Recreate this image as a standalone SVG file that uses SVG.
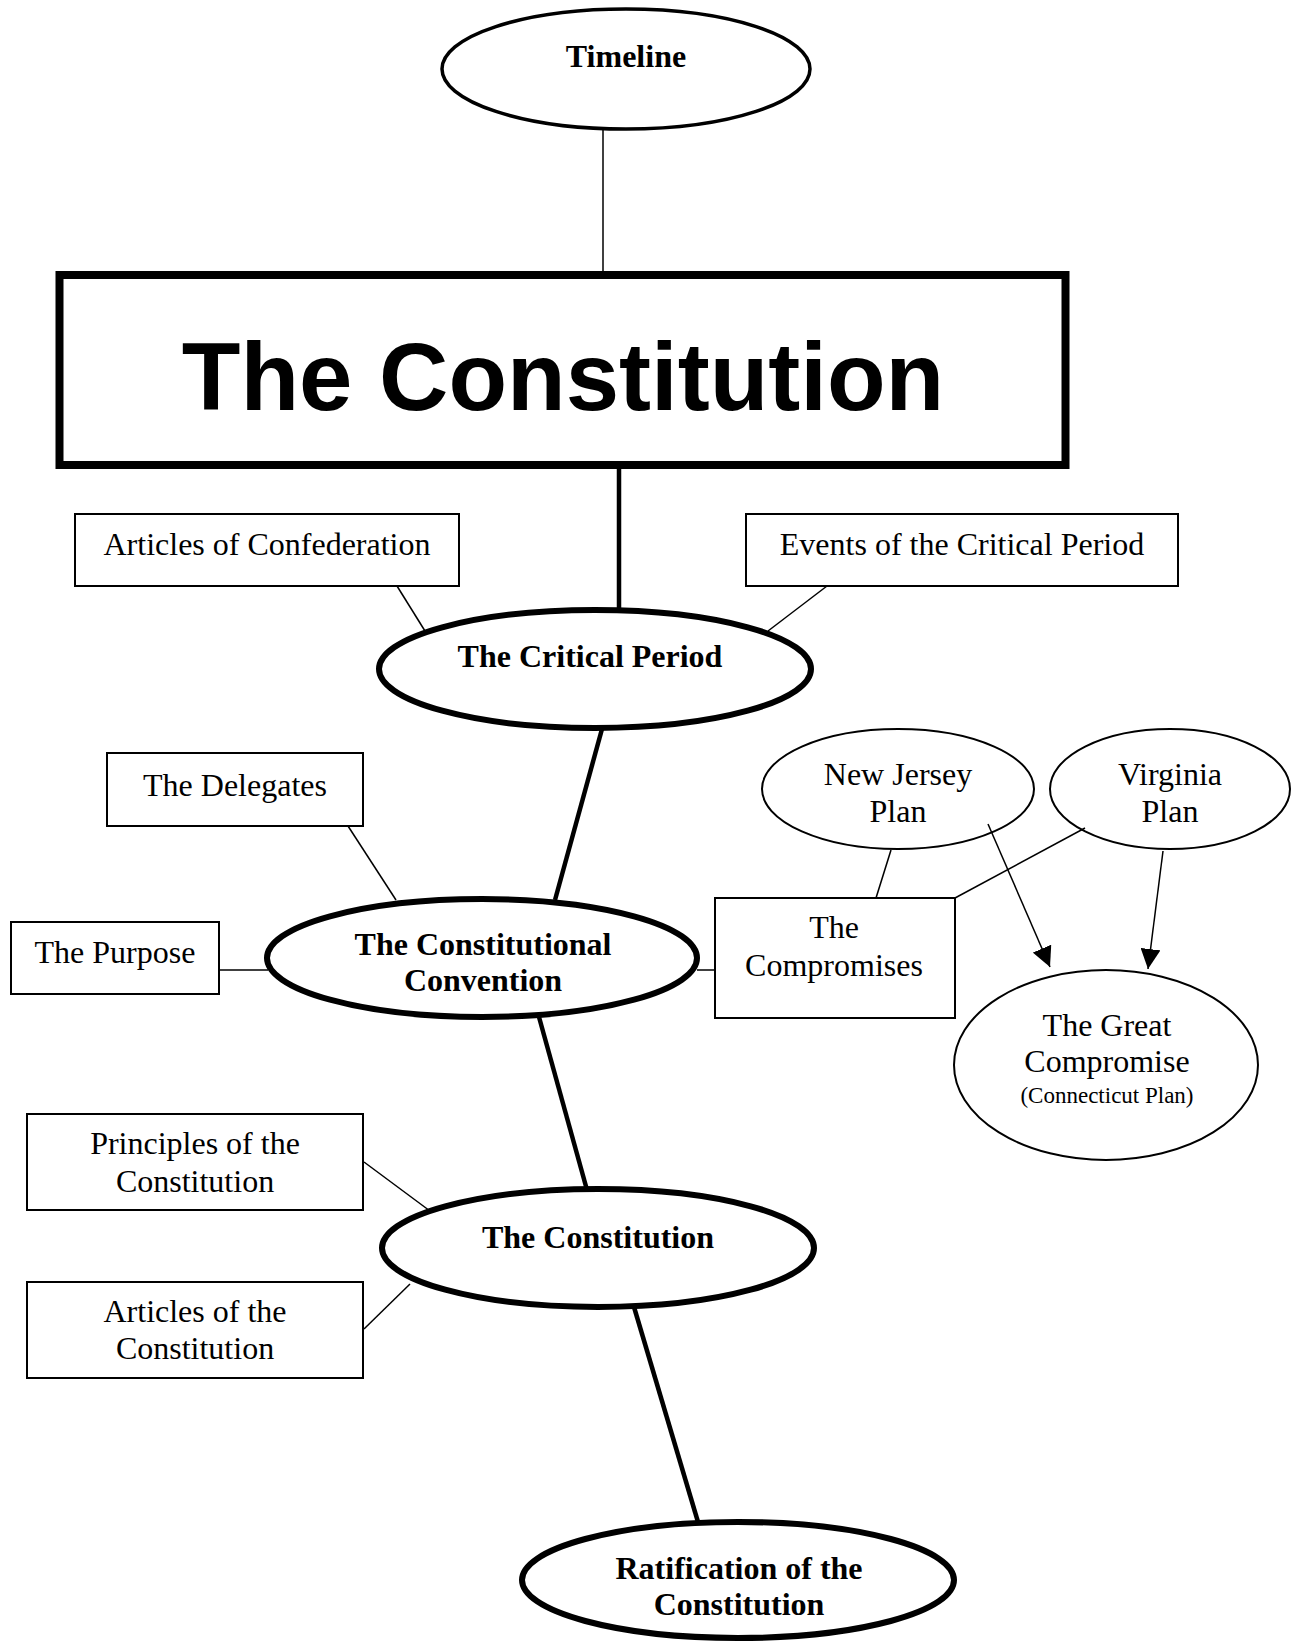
<svg xmlns="http://www.w3.org/2000/svg" width="1300" height="1642" viewBox="0 0 1300 1642">
  <style>
    .bg { fill: #ffffff; }
    .box { fill: #ffffff; stroke: #000; stroke-width: 2; }
    .oval-thin { fill: #ffffff; stroke: #000; stroke-width: 2; }
    .oval-bold { fill: #ffffff; stroke: #000; stroke-width: 6; }
    .link { stroke: #000; stroke-width: 1.5; fill: none; }
    .spine { stroke: #000; stroke-width: 4.5; fill: none; }
    .t { font-family: "Liberation Serif", "Times New Roman", serif; font-size: 32px; fill: #000; text-anchor: middle; }
    .tb { font-family: "Liberation Serif", "Times New Roman", serif; font-size: 32px; font-weight: bold; fill: #000; text-anchor: middle; }
    .small { font-family: "Liberation Serif", "Times New Roman", serif; font-size: 23px; fill: #000; text-anchor: middle; }
    .title { font-family: "Liberation Sans", Arial, sans-serif; font-size: 96px; font-weight: bold; fill: #000; text-anchor: middle; }
  </style>
  <defs>
    <marker id="arrow" viewBox="0 0 20 20" refX="20" refY="10" markerWidth="20" markerHeight="20" markerUnits="userSpaceOnUse" orient="auto">
      <path d="M0,0 L20,10 L0,20 z" fill="#000"/>
    </marker>
  </defs>
  <rect class="bg" x="0" y="0" width="1300" height="1642"/>

  <g id="timeline">
    <ellipse cx="626" cy="69" rx="184" ry="60" fill="#fff" stroke="#000" stroke-width="3.5"/>
    <text class="tb" x="626" y="67">Timeline</text>
  </g>

  <g id="the-constitution-title">
    <rect x="59.5" y="275" width="1006" height="190" fill="#fff" stroke="#000" stroke-width="8"/>
    <text class="title" x="563" y="410">The Constitution</text>
  </g>

  <g id="articles-of-confederation">
    <rect class="box" x="75" y="514" width="384" height="72"/>
    <text class="t" x="267" y="555">Articles of Confederation</text>
  </g>

  <g id="events-critical-period">
    <rect class="box" x="746" y="514" width="432" height="72"/>
    <text class="t" x="962" y="555">Events of the Critical Period</text>
  </g>

  <g id="critical-period">
    <ellipse class="oval-bold" cx="595" cy="669" rx="216" ry="59"/>
    <text class="tb" x="590" y="667">The Critical Period</text>
  </g>

  <g id="delegates">
    <rect class="box" x="107" y="753" width="256" height="73"/>
    <text class="t" x="235" y="796">The Delegates</text>
  </g>

  <g id="purpose">
    <rect class="box" x="11" y="922" width="208" height="72"/>
    <text class="t" x="115" y="963">The Purpose</text>
  </g>

  <g id="constitutional-convention">
    <ellipse class="oval-bold" cx="482" cy="958" rx="215" ry="59"/>
    <text class="tb" x="483" y="955">The Constitutional</text>
    <text class="tb" x="483" y="991">Convention</text>
  </g>

  <g id="compromises">
    <rect class="box" x="715" y="898" width="240" height="120"/>
    <text class="t" x="834" y="938">The</text>
    <text class="t" x="834" y="976">Compromises</text>
  </g>

  <g id="new-jersey-plan">
    <ellipse class="oval-thin" cx="898" cy="789" rx="136" ry="60"/>
    <text class="t" x="898" y="785">New Jersey</text>
    <text class="t" x="898" y="822">Plan</text>
  </g>

  <g id="virginia-plan">
    <ellipse class="oval-thin" cx="1170" cy="789" rx="120" ry="60"/>
    <text class="t" x="1170" y="785">Virginia</text>
    <text class="t" x="1170" y="822">Plan</text>
  </g>

  <g id="great-compromise">
    <ellipse class="oval-thin" cx="1106" cy="1065" rx="152" ry="95"/>
    <text class="t" x="1107" y="1036">The Great</text>
    <text class="t" x="1107" y="1072">Compromise</text>
    <text class="small" x="1107" y="1103">(Connecticut Plan)</text>
  </g>

  <g id="principles">
    <rect class="box" x="27" y="1114" width="336" height="96"/>
    <text class="t" x="195" y="1154">Principles of the</text>
    <text class="t" x="195" y="1192">Constitution</text>
  </g>

  <g id="articles-of-constitution">
    <rect class="box" x="27" y="1282" width="336" height="96"/>
    <text class="t" x="195" y="1322">Articles of the</text>
    <text class="t" x="195" y="1359">Constitution</text>
  </g>

  <g id="constitution">
    <ellipse class="oval-bold" cx="598" cy="1248" rx="216" ry="59"/>
    <text class="tb" x="598" y="1248">The Constitution</text>
  </g>

  <g id="ratification">
    <ellipse class="oval-bold" cx="738" cy="1580" rx="216" ry="58"/>
    <text class="tb" x="739" y="1579">Ratification of the</text>
    <text class="tb" x="739" y="1615">Constitution</text>
  </g>

  <!-- connectors, drawn last so the plan arrow shows inside its oval -->
  <g id="connectors">
    <line class="link" x1="603" y1="129" x2="603" y2="271"/>
    <line class="spine" x1="619" y1="469" x2="619" y2="611"/>
    <line class="link" x1="397" y1="586" x2="425" y2="631"/>
    <line class="link" x1="827" y1="586" x2="768" y2="631"/>
    <line class="spine" x1="602" y1="729" x2="555" y2="900"/>
    <line class="link" x1="348" y1="826" x2="396" y2="900"/>
    <line class="link" x1="219" y1="970" x2="268" y2="970"/>
    <line class="link" x1="697" y1="970" x2="715" y2="970"/>
    <line class="link" x1="891" y1="850" x2="876" y2="898"/>
    <line class="link" x1="1085" y1="828" x2="955" y2="898"/>
    <line class="link" x1="988" y1="824" x2="1050" y2="967" marker-end="url(#arrow)"/>
    <line class="link" x1="1163" y1="851" x2="1148" y2="969" marker-end="url(#arrow)"/>
    <line class="spine" x1="539" y1="1017" x2="587" y2="1190"/>
    <line class="link" x1="364" y1="1162" x2="430" y2="1211"/>
    <line class="link" x1="364" y1="1329" x2="410" y2="1284"/>
    <line class="spine" x1="634" y1="1307" x2="698" y2="1522"/>
  </g>
</svg>
